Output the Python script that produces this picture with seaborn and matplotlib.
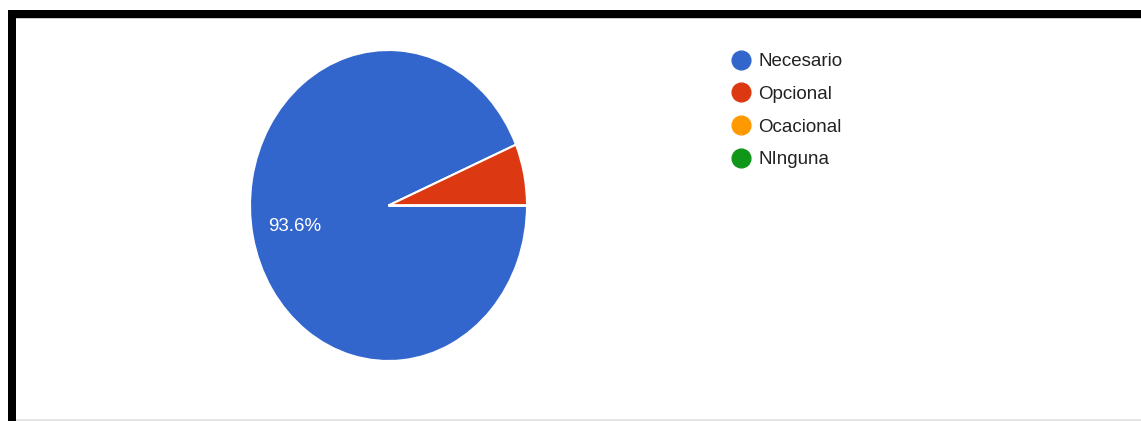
import matplotlib
matplotlib.use("Agg")
import matplotlib.pyplot as plt
from matplotlib.lines import Line2D
from matplotlib.patches import Rectangle
import seaborn as sns

categories = ["Necesario", "Opcional", "Ocacional", "NInguna"]
shares = [93.6, 6.4, 0.0, 0.0]
colors = ["#3366cc", "#dc3912", "#ff9900", "#109618"]

sns.set_theme(style="white")
plt.rcParams["font.family"] = ["Liberation Sans", "DejaVu Sans"]

W, H = 1141, 421
fig = plt.figure(figsize=(W / 100, H / 100), dpi=100)
fig.patch.set_facecolor("white")


def px_box(x0, y0, x1, y1):
    """Convert a pixel box (top-left origin) into figure fractions."""
    return [x0 / W, 1 - y1 / H, (x1 - x0) / W, (y1 - y0) / H]


# Pie, slightly taller than wide
ax = fig.add_axes(px_box(250, 50, 527, 361))
wedges, texts, autotexts = ax.pie(
    shares,
    colors=colors,
    startangle=0,
    counterclock=False,
    radius=1,
    autopct=lambda p: f"{p:.1f}%" if p > 10 else "",
    pctdistance=0.69,
    wedgeprops=dict(edgecolor="white", linewidth=1.5),
    textprops=dict(color="white", fontsize=13.5),
)
ax.set_aspect("auto")
ax.set_xlim(-1.0, 1.0)
ax.set_ylim(-1.0, 1.0)
ax.axis("off")

# Legend with round markers
handles = [
    Line2D([0], [0], marker="o", linestyle="none", markersize=13.5,
           markerfacecolor=c, markeredgecolor=c)
    for c in colors
]
fig.legend(
    handles, categories,
    loc="upper left",
    bbox_to_anchor=(732 / W, 1 - 53 / H),
    frameon=False,
    fontsize=13.5,
    labelcolor="#222222",
    handlelength=1.0,
    handletextpad=0.4,
    labelspacing=0.83,
    borderaxespad=0,
    borderpad=0,
)

# Frame around the chart area
fig.patches.append(Rectangle((8 / W, 1 - 18 / H), 1, 8 / H,
                             transform=fig.transFigure, facecolor="black",
                             edgecolor="none", zorder=5))
fig.patches.append(Rectangle((8 / W, 0), 8 / W, 1 - 10 / H,
                             transform=fig.transFigure, facecolor="black",
                             edgecolor="none", zorder=5))
fig.patches.append(Rectangle((16 / W, 1 - 19 / H), 1, 1 / H,
                             transform=fig.transFigure, facecolor="#cccccc",
                             edgecolor="none", zorder=4))
fig.patches.append(Rectangle((16 / W, 0), 1, 2 / H,
                             transform=fig.transFigure, facecolor="#e6e6e6",
                             edgecolor="none", zorder=4))

fig.savefig("out.png", dpi=100, facecolor="white")
